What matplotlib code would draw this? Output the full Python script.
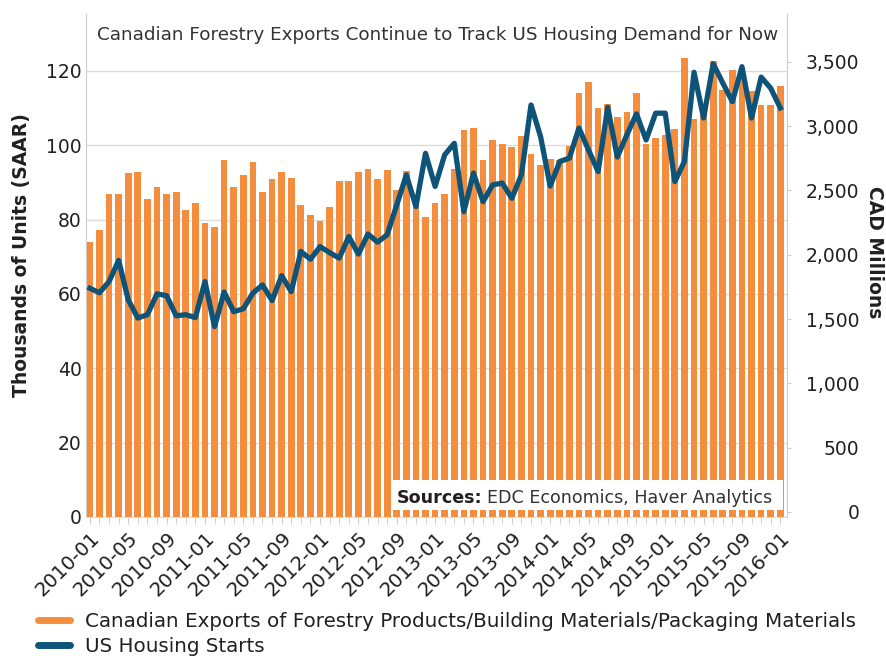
import numpy as np
import pandas as pd
import matplotlib
matplotlib.use("Agg")
import matplotlib.pyplot as plt
from matplotlib.ticker import FuncFormatter
from matplotlib.lines import Line2D
from matplotlib.patches import Rectangle

months = pd.period_range("2010-01", "2016-01", freq="M").strftime("%Y-%m").tolist()

# Canadian exports of forestry products etc. (CAD millions, right axis)
exports = [2100, 2190, 2475, 2475, 2635, 2645, 2435, 2525, 2475, 2490, 2350, 2400,
           2250, 2215, 2735, 2525, 2620, 2720, 2490, 2590, 2645, 2600, 2385, 2310,
           2260, 2370, 2575, 2575, 2645, 2670, 2590, 2660, 2505, 2650, 2450, 2290,
           2400, 2475, 2665, 2970, 2985, 2740, 2890, 2860, 2840, 2920, 2785, 2700,
           2745, 2735, 2845, 3255, 3345, 3145, 3170, 3070, 3110, 3260, 2865, 2910,
           2935, 2975, 3530, 3055, 3140, 3510, 3285, 3435, 3425, 3270, 3165, 3165,
           3310]

# US housing starts (left axis)
starts = [61.5, 60.3, 63.3, 69.0, 58.4, 53.5, 54.4, 60.0, 59.5, 54.1, 54.4, 53.6,
          63.3, 51.2, 60.5, 55.2, 56.0, 60.2, 62.4, 58.2, 64.9, 60.6, 71.4, 69.3,
          72.7, 71.1, 69.6, 75.4, 70.7, 76.1, 73.9, 75.9, 83.9, 92.0, 83.5, 97.8,
          88.9, 97.4, 100.5, 82.1, 92.5, 84.8, 89.3, 89.8, 85.7, 92.0, 110.8, 102.3,
          89.0, 95.6, 96.5, 104.6, 98.7, 92.9, 110.2, 96.8, 102.8, 108.4, 101.4, 108.6,
          108.6, 90.2, 95.6, 119.6, 107.3, 121.9, 116.7, 111.7, 121.1, 107.3, 118.3, 115.3,
          110.0]

orange = "#F58D3F"
blue = "#0E5479"
txt = "#231F20"

fig = plt.figure(figsize=(8.87, 6.56), dpi=100)
ax = fig.add_axes([0.097, 0.212, 0.7903, 0.7668])
axb = ax.twinx()
axl = ax.twinx()

right_lim = (-39, 3873)
x = np.arange(len(months))
# bars run down to the bottom of the plot area
axb.bar(x, np.array(exports) - right_lim[0], bottom=right_lim[0], width=0.7, color=orange)
axl.plot(x, starts, color=blue, lw=3.8)

ax.set_xlim(-0.4, 72.7)
ax.set_ylim(0, 135.3)
axl.set_ylim(0, 135.3)
axb.set_ylim(right_lim)

# left axis
ax.set_yticks(range(0, 121, 20))
ax.yaxis.grid(True, color="#dcdcdc", lw=1)
ax.tick_params(axis="y", length=0, labelsize=13.5, pad=3, labelcolor=txt)
ax.set_xticks(x[::4])
ax.set_xticklabels(months[::4], rotation=45, ha="right", rotation_mode="anchor")
ax.set_xticks(x, minor=True)
ax.tick_params(axis="x", which="both", length=5, color="#cccccc", labelsize=14.2,
               labelcolor=txt, pad=3)
for s in ["top", "right"]:
    ax.spines[s].set_visible(False)
ax.spines["left"].set_color("#cccccc")
ax.spines["bottom"].set_color("#e0e0e0")

# right axis
axb.set_yticks(range(0, 3501, 500))
axb.yaxis.set_major_formatter(FuncFormatter(lambda v, p: f"{v:,.0f}"))
axb.tick_params(axis="y", length=3, color="#cccccc", labelsize=13.5, pad=49, labelcolor=txt)
for t in axb.get_yticklabels():
    t.set_horizontalalignment("right")
for s in ["top", "left", "bottom"]:
    axb.spines[s].set_visible(False)
axb.spines["right"].set_color("#cccccc")

axl.axis("off")

axl.text(0.502, 0.958, "Canadian Forestry Exports Continue to Track US Housing Demand for Now",
         transform=axl.transAxes, ha="center", va="center", fontsize=13.2, color="#333333")

# sources box
axl.add_patch(Rectangle((0.438, 0.014), 0.556, 0.060, transform=axl.transAxes,
                        facecolor="white", edgecolor="none", zorder=9))
src = axl.text(0.4437, 0.028, "Sources:", transform=axl.transAxes, ha="left",
               va="baseline", fontsize=12.6, fontweight="bold", color=txt, zorder=10)
axl.annotate("EDC Economics, Haver Analytics", xy=(1, 0), xycoords=src,
             xytext=(3, 0), textcoords="offset points", ha="left", va="bottom",
             fontsize=12.6, color="#333333", zorder=10)

fig.text(22 / 887, 1 - 255 / 656, "Thousands of Units (SAAR)", rotation=90,
         ha="center", va="center", fontsize=13.5, fontweight="bold", color=txt)
fig.text(875 / 887, 1 - 252 / 656, "CAD Millions", rotation=270,
         ha="center", va="center", fontsize=13.5, fontweight="bold", color=txt)

handles = [Line2D([], [], color=orange, lw=5, solid_capstyle="round"),
           Line2D([], [], color=blue, lw=5, solid_capstyle="round")]
labels = ["Canadian Exports of Forestry Products/Building Materials/Packaging Materials",
          "US Housing Starts"]
fig.legend(handles, labels, loc="upper left", bbox_to_anchor=(38 / 887, 1 - 612 / 656),
           frameon=False, fontsize=14.3, handlelength=1.6, handletextpad=0.75,
           labelspacing=0.3, borderpad=0, borderaxespad=0, labelcolor=txt)

fig.savefig("out.png", dpi=100)
